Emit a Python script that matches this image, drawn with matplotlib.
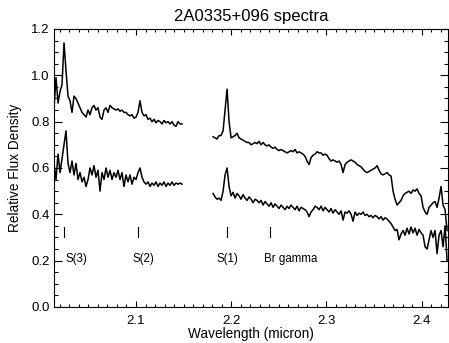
import matplotlib
matplotlib.use('Agg')
import matplotlib.pyplot as plt
import numpy as np
from matplotlib.ticker import MultipleLocator

plt.rcParams['font.family'] = ['Liberation Sans', 'DejaVu Sans']

# blue part of the spectrum (before the atmospheric gap)
wave_blue = (2.0139, 2.1483)
# red part (after the gap)
wave_red = (2.1809, 2.4266)

upper_blue = [0.86, 0.99, 0.88, 0.93, 0.96, 1.14, 1.02, 0.91, 0.89, 0.84,
              0.91, 0.90, 0.88, 0.86, 0.84, 0.83, 0.82, 0.85, 0.83, 0.86,
              0.87, 0.85, 0.86, 0.82, 0.81, 0.85, 0.86, 0.84, 0.87, 0.86,
              0.855, 0.85, 0.855, 0.845, 0.85, 0.84, 0.84, 0.83, 0.825, 0.83,
              0.815, 0.82, 0.84, 0.89, 0.84, 0.825, 0.83, 0.81, 0.815, 0.80,
              0.81, 0.795, 0.805, 0.80, 0.79, 0.805, 0.795, 0.80, 0.79, 0.80,
              0.785, 0.78, 0.80, 0.79, 0.79]

lower_blue = [0.62, 0.55, 0.66, 0.58, 0.64, 0.70, 0.76, 0.62, 0.58, 0.63,
              0.57, 0.62, 0.55, 0.58, 0.54, 0.56, 0.52, 0.55, 0.60, 0.57,
              0.61, 0.56, 0.59, 0.50, 0.58, 0.55, 0.60, 0.56, 0.59, 0.55,
              0.58, 0.56, 0.59, 0.55, 0.58, 0.52, 0.57, 0.54, 0.57, 0.53,
              0.56, 0.55, 0.58, 0.60, 0.56, 0.54, 0.53, 0.54, 0.52, 0.535,
              0.525, 0.54, 0.52, 0.535, 0.525, 0.54, 0.52, 0.535, 0.525, 0.54,
              0.525, 0.535, 0.53, 0.535, 0.53]

upper_red = [0.735, 0.73, 0.725, 0.74, 0.74, 0.76, 0.85, 0.94, 0.80, 0.73,
             0.735, 0.74, 0.75, 0.73, 0.725, 0.72, 0.715, 0.71, 0.71, 0.70,
             0.705, 0.71, 0.705, 0.715, 0.70, 0.71, 0.70, 0.695, 0.70, 0.69,
             0.685, 0.69, 0.68, 0.675, 0.68, 0.675, 0.67, 0.665, 0.67, 0.675,
             0.67, 0.68, 0.665, 0.67, 0.665, 0.66, 0.65, 0.63, 0.615, 0.645,
             0.655, 0.66, 0.67, 0.665, 0.665, 0.655, 0.66, 0.655, 0.64, 0.63,
             0.635, 0.63, 0.625, 0.63, 0.615, 0.58, 0.615, 0.625, 0.63, 0.635,
             0.63, 0.625, 0.615, 0.61, 0.605, 0.595, 0.585, 0.58, 0.585, 0.59,
             0.595, 0.60, 0.61, 0.59, 0.575, 0.57, 0.575, 0.58, 0.57, 0.565,
             0.50, 0.465, 0.44, 0.45, 0.46, 0.48, 0.49, 0.495, 0.50, 0.49,
             0.505, 0.50, 0.51, 0.49, 0.48, 0.43, 0.41, 0.40, 0.43, 0.44,
             0.45, 0.455, 0.43, 0.47, 0.52, 0.44, 0.42, 0.33]

lower_red = [0.49, 0.475, 0.465, 0.47, 0.46, 0.50, 0.57, 0.60, 0.52, 0.48,
             0.495, 0.47, 0.49, 0.48, 0.465, 0.485, 0.47, 0.46, 0.475, 0.465,
             0.45, 0.465, 0.46, 0.45, 0.46, 0.44, 0.455, 0.445, 0.435, 0.45,
             0.43, 0.445, 0.435, 0.425, 0.44, 0.43, 0.42, 0.435, 0.425, 0.44,
             0.43, 0.42, 0.435, 0.415, 0.43, 0.425, 0.42, 0.41, 0.39, 0.41,
             0.42, 0.435, 0.43, 0.42, 0.435, 0.415, 0.43, 0.42, 0.41, 0.425,
             0.405, 0.42, 0.41, 0.40, 0.415, 0.375, 0.41, 0.405, 0.415, 0.40,
             0.37, 0.41, 0.395, 0.405, 0.40, 0.41, 0.395, 0.40, 0.39, 0.395,
             0.385, 0.395, 0.39, 0.38, 0.39, 0.375, 0.385, 0.38, 0.37, 0.36,
             0.345, 0.33, 0.335, 0.29, 0.315, 0.33, 0.31, 0.34, 0.315, 0.345,
             0.32, 0.34, 0.31, 0.335, 0.32, 0.31, 0.26, 0.25, 0.29, 0.33,
             0.30, 0.33, 0.23, 0.31, 0.33, 0.26, 0.35, 0.20]

# redshifted line positions and where their names go
line_names = ['S(3)', 'S(2)', 'S(1)', 'Br gamma']
line_waves = [2.0245, 2.1025, 2.1955, 2.2410]
label_waves = [2.0258, 2.0965, 2.1842, 2.2347]

fig = plt.figure(figsize=(4.49, 3.43), dpi=100)
ax = fig.add_axes([0.1203, 0.105, 0.8775, 0.8105])

for fl, rng in [(upper_blue, wave_blue), (lower_blue, wave_blue),
                (upper_red, wave_red), (lower_red, wave_red)]:
    w = np.linspace(rng[0], rng[1], len(fl))
    ax.plot(w, fl, color='black', lw=1.1)

for lw_, lab, lx in zip(line_waves, line_names, label_waves):
    ax.plot([lw_, lw_], [0.30, 0.345], color='black', lw=0.8)
    ax.text(lx, 0.207, lab, fontsize=8.3, va='center', ha='left')

ax.set_xlim(2.0139, 2.4276)
ax.set_ylim(0, 1.2)
ax.xaxis.set_major_locator(MultipleLocator(0.1))
ax.xaxis.set_minor_locator(MultipleLocator(0.01))
ax.yaxis.set_major_locator(MultipleLocator(0.2))
ax.yaxis.set_minor_locator(MultipleLocator(0.05))
ax.yaxis.set_major_formatter(matplotlib.ticker.FormatStrFormatter('%.1f'))
ax.xaxis.set_major_formatter(matplotlib.ticker.FormatStrFormatter('%.1f'))

ax.tick_params(axis='both', which='both', direction='in', top=True, right=True,
               width=0.8, labelsize=9.5)
ax.tick_params(axis='x', which='major', length=4, pad=6)
ax.tick_params(axis='x', which='minor', length=2)
ax.tick_params(axis='y', which='major', length=5.7, pad=3)
ax.tick_params(axis='y', which='minor', length=2.8)
for sp in ax.spines.values():
    sp.set_linewidth(0.8)

ax.set_title('2A0335+096 spectra', fontsize=12, pad=6)
ax.set_xlabel('Wavelength (micron)', fontsize=9.8, labelpad=0)
ax.set_ylabel('Relative Flux Density', fontsize=9.8, labelpad=7)

plt.savefig('out.png', dpi=100)
